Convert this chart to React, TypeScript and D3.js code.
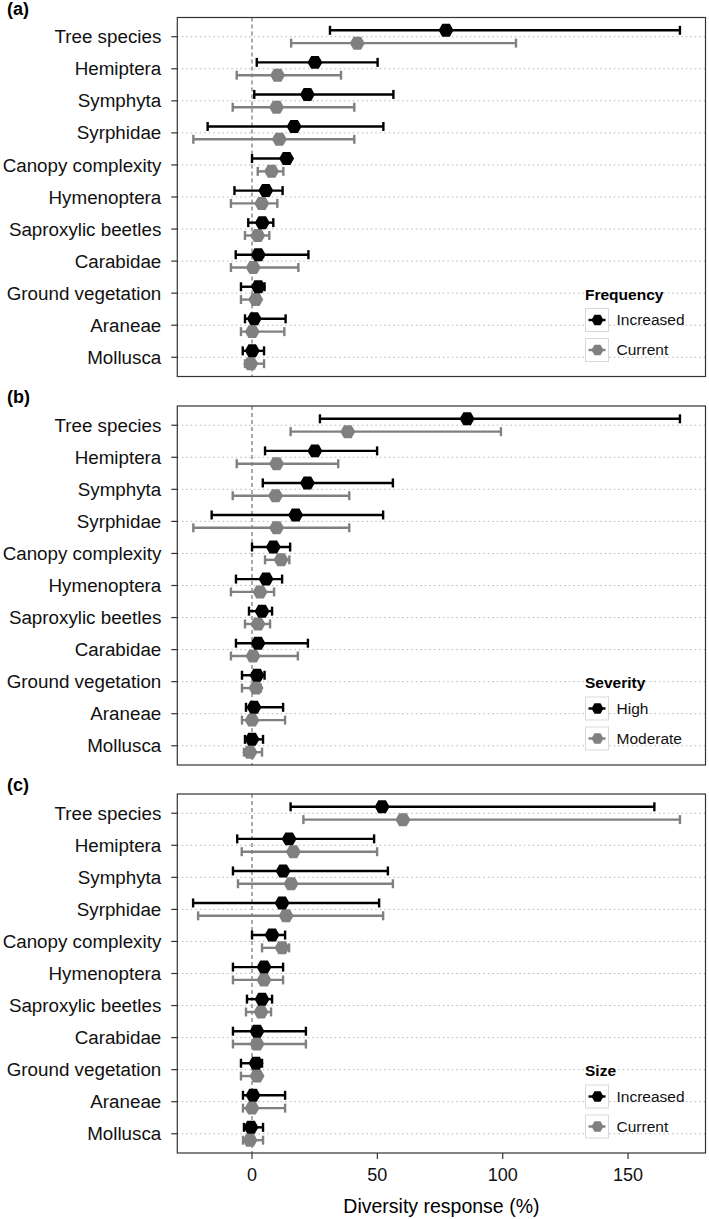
import React from "react";
import * as d3 from "d3";

const categories = [
  "Tree species", "Hemiptera", "Symphyta", "Syrphidae", "Canopy complexity",
  "Hymenoptera", "Saproxylic beetles", "Carabidae", "Ground vegetation", "Araneae", "Mollusca",
];

const xTicks = [0, 50, 100, 150];
const panelLabels = ["(a)", "(b)", "(c)"];
const legendTitles = ["Frequency", "Severity", "Size"];
const legendLabels = [["Increased", "Current"], ["High", "Moderate"], ["Increased", "Current"]];

// Panel (a) – Frequency
const aIncEst = [77.4, 25.1, 22.1, 16.8, 13.8, 5.5, 4.1, 2.5, 2.5, 0.9, 0.1];
const aIncLo = [31.1, 1.9, 0.9, -17.7, 0, -7.0, -1.5, -6.5, -4.4, -2.8, -3.7];
const aIncHi = [170.7, 50.1, 56.4, 52.4, 15, 12.2, 8.5, 22.5, 5, 13.4, 4.8];
const aCurEst = [42.0, 10.2, 9.8, 10.9, 7.8, 3.9, 2.3, 0.5, 1.5, 0.1, -0.5];
const aCurLo = [15.6, -6.1, -7.7, -23.4, 2.3, -8.4, -2.8, -8.4, -4.4, -4.4, -2.8];
const aCurHi = [105.3, 35.5, 40.8, 40.8, 12.5, 10.1, 6.9, 18.5, 3, 12.9, 4.8];

// Panel (b) – Severity
const bHighEst = [85.8, 25.1, 22.1, 17.4, 8.5, 5.6, 4.0, 2.4, 2.0, 0.8, 0.0];
const bHighLo = [27.1, 5.2, 4.3, -16.1, 0, -6.4, -1.2, -6.4, -4.0, -2.4, -2.8];
const bHighHi = [170.7, 49.9, 56.2, 52.3, 15.2, 12.0, 8.0, 22.3, 5, 12.4, 4.4];
const bModEst = [38.2, 9.8, 9.4, 9.8, 11.6, 3.2, 2.4, 0.4, 1.6, 0.0, -0.8];
const bModLo = [15.4, -6.1, -7.7, -23.4, 5.2, -8.4, -2.8, -8.4, -4.0, -4.0, -3.2];
const bModHi = [99.3, 34.4, 38.8, 38.8, 14.9, 8.8, 7.2, 18.3, 3.5, 13.2, 4.0];

// Panel (c) – Size
const cIncEst = [51.9, 14.8, 12.4, 12.0, 8.0, 4.8, 4.0, 2.0, 1.6, 0.4, -0.4];
const cIncLo = [15.4, -5.9, -7.6, -23.5, 0, -7.6, -2.0, -7.6, -4.4, -3.6, -3.2];
const cIncHi = [160.5, 48.7, 54.2, 50.7, 13.2, 12.4, 8.0, 21.5, 4, 13.2, 4.4];
const cCurEst = [60.2, 16.5, 15.6, 13.6, 12.0, 4.8, 3.6, 2.0, 2.0, 0.0, -0.8];
const cCurLo = [20.5, -4.1, -5.6, -21.5, 4.0, -7.6, -2.4, -7.6, -4.4, -3.6, -3.6];
const cCurHi = [170.7, 49.9, 56.2, 52.3, 14.8, 12.4, 7.6, 21.5, 3, 13.2, 4.4];

const panels = [
  { series: [[aIncEst, aIncLo, aIncHi], [aCurEst, aCurLo, aCurHi]] },
  { series: [[bHighEst, bHighLo, bHighHi], [bModEst, bModLo, bModHi]] },
  { series: [[cIncEst, cIncLo, cIncHi], [cCurEst, cCurLo, cCurHi]] },
];

const W = 709;
const H = 1219;
const LEFT = 177.3;
const RIGHT = 705.5;
const panelTops = [17.5, 406, 794];
const PH = 359;
const colors = ["#000000", "#808080"];
const FONT = "'Liberation Sans', Arial, Helvetica, sans-serif";

const x = d3.scaleLinear().domain([-29.8, 180.9]).range([LEFT, RIGHT]);

function hexPath(cx: number, cy: number, r: number) {
  const pts: [number, number][] = [];
  for (let k = 0; k < 6; k++) {
    const a = (Math.PI / 3) * k;
    pts.push([cx + r * Math.cos(a), cy + r * Math.sin(a)]);
  }
  return d3.line()(pts) + "Z";
}

export default function App() {
  return (
    <svg width={W} height={H} style={{ position: "absolute", left: 0, top: 0, background: "#fff" }} fontFamily={FONT}>
      <rect x={0} y={0} width={W} height={H} fill="#fff" />
      {panels.map((p, pi) => {
        const top = panelTops[pi];
        const y = d3.scalePoint<string>().domain(categories).range([top, top + PH]).padding(0.6);
        const step = y.step();
        const dodge = step * 0.2;
        const bottom = top + PH;
        return (
          <g key={pi}>
            <text x={7} y={top - 3} fontSize={18} fontWeight="bold" fill="#000">{panelLabels[pi]}</text>
            {categories.map((c) => (
              <line key={"g" + c} x1={LEFT} x2={RIGHT} y1={y(c)} y2={y(c)} stroke="#b5b5b5" strokeWidth={1} strokeDasharray="1.5,3" />
            ))}
            <line x1={x(0)} x2={x(0)} y1={top} y2={bottom} stroke="#555" strokeWidth={1} strokeDasharray="4,3" />
            {categories.map((c) => (
              <g key={"t" + c}>
                <line x1={LEFT - 6} x2={LEFT} y1={y(c)} y2={y(c)} stroke="#333" strokeWidth={1.2} />
                <text x={LEFT - 16} y={y(c)} dy="0.35em" textAnchor="end" fontSize={18.8} fill="#111">{c}</text>
              </g>
            ))}
            {[1, 0].map((si) => {
              const [est, lo, hi] = p.series[si];
              const off = si === 0 ? -dodge : dodge;
              return (
                <g key={"s" + si}>
                  {categories.map((c, i) => {
                    const cy = (y(c) as number) + off;
                    return (
                      <g key={c}>
                        <line x1={x(lo[i])} x2={x(hi[i])} y1={cy} y2={cy} stroke={colors[si]} strokeWidth={2.4} />
                        <line x1={x(lo[i])} x2={x(lo[i])} y1={cy - 4.5} y2={cy + 4.5} stroke={colors[si]} strokeWidth={2.4} />
                        <line x1={x(hi[i])} x2={x(hi[i])} y1={cy - 4.5} y2={cy + 4.5} stroke={colors[si]} strokeWidth={2.4} />
                        <path d={hexPath(x(est[i]), cy, 7.5)} fill={colors[si]} />
                      </g>
                    );
                  })}
                </g>
              );
            })}
            <rect x={LEFT} y={top} width={RIGHT - LEFT} height={PH} fill="none" stroke="#333" strokeWidth={1.2} />
            <g>
              <text x={585} y={bottom - 82} dy="0.35em" fontSize={15.5} fontWeight="bold" fill="#000">{legendTitles[pi]}</text>
              {legendLabels[pi].map((lab, li) => {
                const ky = bottom - 68 + li * 30;
                const kx = 585.5;
                return (
                  <g key={lab}>
                    <rect x={kx} y={ky} width={23} height={23} fill="#fff" stroke="#d9d9d9" strokeWidth={1} />
                    <line x1={kx + 3} x2={kx + 20} y1={ky + 11.5} y2={ky + 11.5} stroke={colors[li]} strokeWidth={2.4} />
                    <path d={hexPath(kx + 12, ky + 11.5, 6)} fill={colors[li]} />
                    <text x={616.5} y={ky + 11.5} dy="0.35em" fontSize={15.5} fill="#111">{lab}</text>
                  </g>
                );
              })}
            </g>
            {pi === 2 && (
              <g>
                {xTicks.map((t) => (
                  <g key={t}>
                    <line x1={x(t)} x2={x(t)} y1={bottom} y2={bottom + 6} stroke="#333" strokeWidth={1.2} />
                    <text x={x(t)} y={bottom + 22} dy="0.35em" textAnchor="middle" fontSize={18} fill="#111">{t}</text>
                  </g>
                ))}
                <text x={(LEFT + RIGHT) / 2} y={bottom + 53} dy="0.35em" textAnchor="middle" fontSize={19.5} fill="#000">Diversity response (%)</text>
              </g>
            )}
          </g>
        );
      })}
    </svg>
  );
}
